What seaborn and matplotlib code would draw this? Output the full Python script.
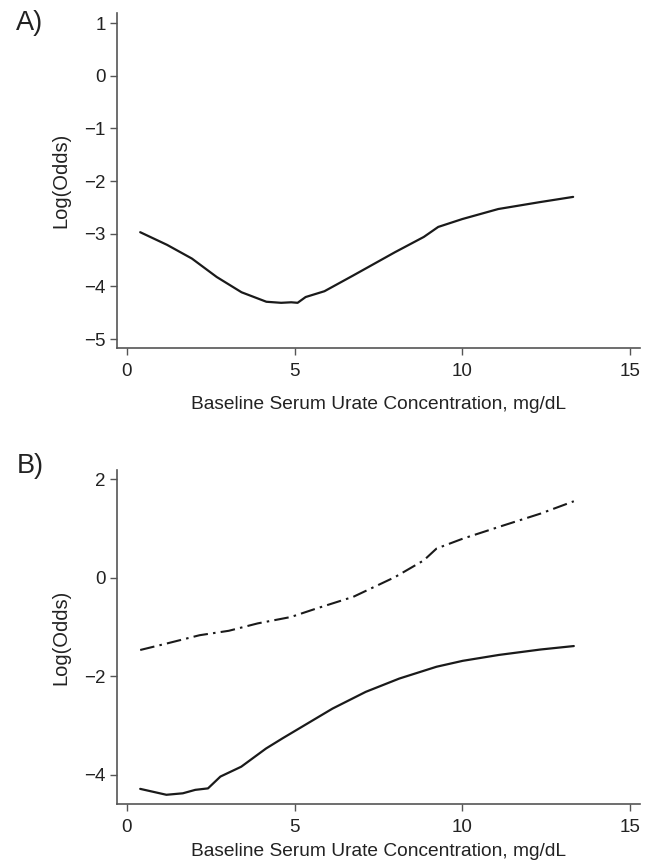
import numpy as np
import pandas as pd
import seaborn as sns
import matplotlib.pyplot as plt

# Panel A: single log-odds curve
a_urate = [0.4, 1.2, 1.94, 2.68, 3.42, 4.16, 4.6, 4.9, 5.09, 5.33, 5.89, 6.75, 7.99, 8.85, 9.28, 10.0, 11.07, 12.3, 13.3]
a_logodds = [-2.97, -3.21, -3.47, -3.82, -4.11, -4.29, -4.31, -4.30, -4.31, -4.20, -4.09, -3.79, -3.35, -3.06, -2.87, -2.72, -2.53, -2.40, -2.30]

# Panel B: solid curve and dash-dot curve
b_urate = [0.4, 1.18, 1.67, 2.04, 2.42, 2.79, 3.41, 4.15, 4.65, 5.39, 6.13, 7.12, 8.12, 9.23, 10.01, 11.09, 12.33, 13.32]
b_solid = [-4.29, -4.41, -4.38, -4.31, -4.28, -4.04, -3.84, -3.47, -3.26, -2.96, -2.66, -2.32, -2.05, -1.81, -1.69, -1.57, -1.46, -1.39]
c_urate = [0.4, 1.18, 2.17, 3.04, 3.9, 4.89, 5.64, 6.75, 7.99, 8.85, 9.23, 10.01, 11.09, 12.33, 13.32]
b_dashdot = [-1.47, -1.34, -1.17, -1.08, -0.93, -0.80, -0.63, -0.39, 0.01, 0.35, 0.59, 0.79, 1.03, 1.30, 1.55]

xlabel = "Baseline Serum Urate Concentration, mg/dL"

sns.set_style("ticks")
plt.rcParams["font.family"] = ["Liberation Sans", "DejaVu Sans"]

fig = plt.figure(figsize=(6.52, 8.66), dpi=100)
ax_a = fig.add_axes([0.179, 0.598, 0.803, 0.387])
ax_b = fig.add_axes([0.179, 0.072, 0.803, 0.385])

line_col = "#1a1a1a"
spine_col = "#555555"
text_col = "#222222"

df_a = pd.DataFrame({"x": a_urate, "y": a_logodds})
sns.lineplot(data=df_a, x="x", y="y", ax=ax_a, color=line_col, linewidth=1.6)

df_b = pd.DataFrame({"x": b_urate, "y": b_solid})
df_c = pd.DataFrame({"x": c_urate, "y": b_dashdot})
sns.lineplot(data=df_b, x="x", y="y", ax=ax_b, color=line_col, linewidth=1.6)
sns.lineplot(data=df_c, x="x", y="y", ax=ax_b, color=line_col, linewidth=1.5)
ax_b.lines[-1].set_dashes([7, 2.5, 1.2, 2.5])

for ax, yt, ylim, xpad in [(ax_a, [1, 0, -1, -2, -3, -4, -5], (-5.17, 1.19), 11),
                           (ax_b, [2, 0, -2, -4], (-4.59, 2.18), 5)]:
    ax.set_xlim(-0.3, 15.3)
    ax.set_ylim(*ylim)
    ax.set_xticks([0, 5, 10, 15])
    ax.set_yticks(yt)
    ax.set_yticklabels([str(v).replace("-", "\u2212") for v in yt])
    ax.set_xlabel(xlabel, fontsize=13.8, color=text_col, labelpad=xpad)
    ax.set_ylabel("Log(Odds)", fontsize=14.5, color=text_col, labelpad=10)
    ax.tick_params(axis="both", labelsize=13.5, colors=text_col, length=5,
                   width=1, color=spine_col)
    ax.tick_params(axis="x", pad=6)
    ax.tick_params(axis="y", pad=3)
    sns.despine(ax=ax)
    for s in ["left", "bottom"]:
        ax.spines[s].set_color(spine_col)
        ax.spines[s].set_linewidth(1.2)

fig.text(0.025, 0.973, "A)", fontsize=19.5, color=text_col, va="center")
fig.text(0.025, 0.462, "B)", fontsize=19.5, color=text_col, va="center")

fig.savefig("out.png", dpi=100)
